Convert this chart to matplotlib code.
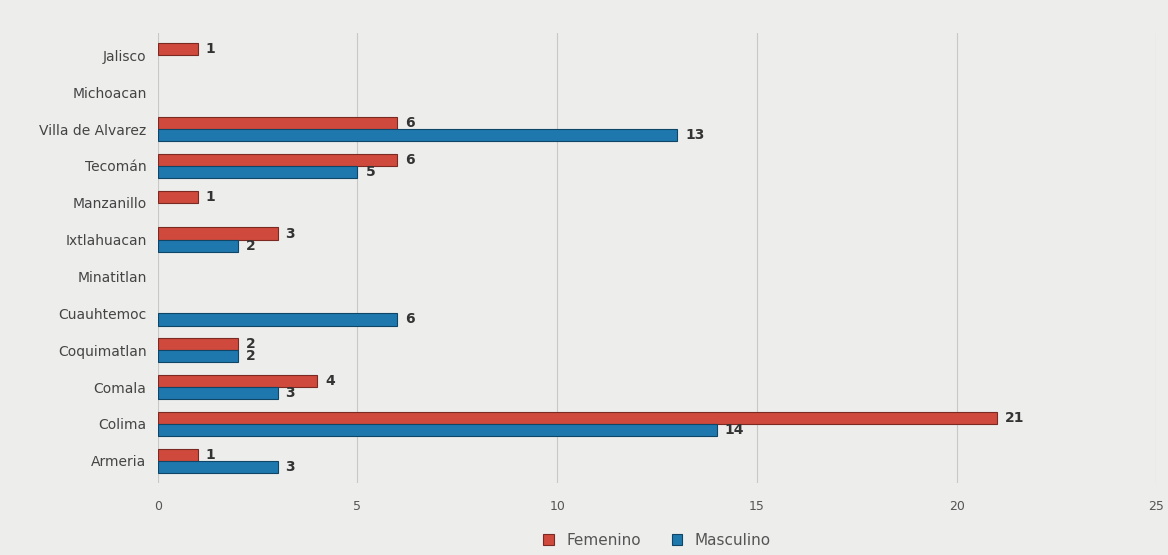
import matplotlib.pyplot as plt
import numpy as np

municipios = ['Armeria', 'Colima', 'Comala', 'Coquimatlan', 'Cuauhtemoc', 'Minatitlan',
              'Ixtlahuacan', 'Manzanillo', 'Tecomán', 'Villa de Alvarez', 'Michoacan', 'Jalisco']
femenino = [1, 21, 4, 2, 0, 0, 3, 1, 6, 6, 0, 1]
masculino = [3, 14, 3, 2, 6, 0, 2, 0, 5, 13, 0, 0]

rojo = '#cf4a3c'
azul = '#1f78ad'

fig, ax = plt.subplots(figsize=(11.68, 5.55), dpi=100)
fig.patch.set_facecolor('#ededeb')
ax.set_facecolor('#ededeb')
fig.subplots_adjust(left=0.135, right=0.99, top=0.94, bottom=0.13)

y = np.arange(len(municipios))
h = 0.33
bf = ax.barh(y + h / 2, femenino, height=h, color=rojo, edgecolor='#7a2a22', linewidth=0.8, label='Femenino')
bm = ax.barh(y - h / 2, masculino, height=h, color=azul, edgecolor='#0f4566', linewidth=0.8, label='Masculino')

for barras, valores in [(bf, femenino), (bm, masculino)]:
    for rect, v in zip(barras, valores):
        if v > 0:
            ax.text(v + 0.2, rect.get_y() + rect.get_height() / 2, str(v), va='center', ha='left',
                    fontsize=10, fontweight='bold', color='#333333')
        else:
            rect.set_visible(False)

ax.set_yticks(y)
ax.set_yticklabels(municipios, fontsize=10, color='#444444')
ax.set_xlim(0, 25)
ax.set_xticks([0, 5, 10, 15, 20, 25])
ax.tick_params(axis='x', labelsize=9, colors='#555555', length=0, pad=12)
ax.tick_params(axis='y', length=0, pad=8)
ax.set_ylim(-0.6, len(municipios) - 0.4)
ax.grid(axis='x', color='#c8c8c6', linewidth=0.8)
ax.set_axisbelow(True)
for s in ax.spines.values():
    s.set_visible(False)

ax.legend(loc='upper center', bbox_to_anchor=(0.5, -0.08), ncol=2, frameon=False,
          fontsize=11, handlelength=0.7, handleheight=0.7, labelcolor='#555555')

plt.savefig('out.png', facecolor=fig.get_facecolor())
